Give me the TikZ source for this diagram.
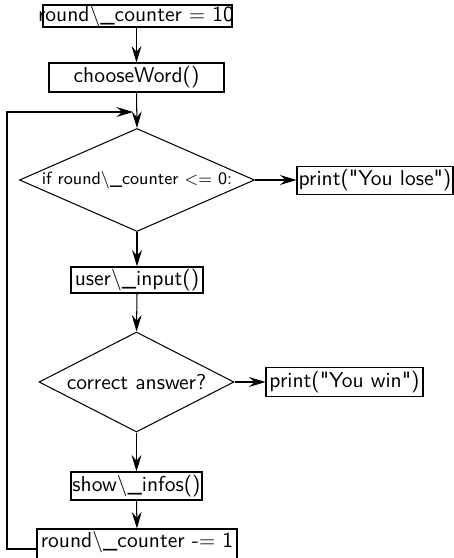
\documentclass[tikz,border=0pt]{standalone}
\usetikzlibrary{arrows.meta,shapes.geometric}
\def\pxl{0.483pt}
\newcommand{\dq}{\textquotedbl}
\begin{document}
\begin{tikzpicture}[x=0.483pt,y=-0.483pt,
  font=\sffamily\fontsize{10.4}{12.5}\selectfont,
  line width=0.5pt,
  bx/.style 2 args={draw, rectangle, inner sep=0pt, minimum width={#1*\pxl}, minimum height={#2*\pxl}},
  dm/.style 2 args={draw, diamond, inner sep=0pt, minimum width={#1*\pxl}, minimum height={#2*\pxl}},
  txt/.style={inner sep=0pt},
  arr/.style={-{Stealth[length=8pt,width=4.8pt,inset=2.8pt]}}]
\useasboundingbox (0,0) rectangle (454,558);
\clip (0,0) rectangle (454,558);

\node[bx={189}{22}] (b0) at (137.5,16) {};
\node[txt] (t0) at (136,16) {round{\textbackslash}\_counter $=$ 10};

\node[bx={175}{29}] (choose) at (136.5,77.5) {chooseWord()};

\node[dm={235}{103}, aspect=2.28] (d1) at (137,180) {\fontsize{8.5}{10}\selectfont if round{\textbackslash}\_counter $<=$ 0:};
\node[bx={156}{28}] (lose) at (375,180.5) {print(\dq You lose\dq)};

\node[bx={132}{26}] (user) at (137,280) {user{\textbackslash}\_input()};

\node[dm={195}{100}, aspect=1.95] (d2) at (136.5,382) {correct answer?};
\node[bx={157}{29}] (win) at (344.5,382) {print(\dq You win\dq)};

\node[bx={131}{28}] (show) at (136.5,486) {show{\textbackslash}\_infos()};

\node[bx={200}{40}] (dec) at (137,549) {};
\node[txt] (tdec) at (137,542) {round{\textbackslash}\_counter -$=$ 1};

\coordinate (lx) at (7,112);
\coordinate (loopin) at (133,112);

\draw[arr] (b0.south -| choose.north) -- (choose.north);
\draw[arr] (choose.south) -- (d1.north);
\draw[arr] (d1.east) -- (lose.west |- d1.east);
\draw[arr] (d1.south) -- (user.north);
\draw[arr] (user.south) -- (d2.north);
\draw[arr] (d2.east) -- (win.west);
\draw[arr] (d2.south) -- (show.north);
\draw[arr] (show.south) -- (dec.north);
\draw[arr] (dec.west) -| (lx) -- (loopin);
\end{tikzpicture}
\end{document}
